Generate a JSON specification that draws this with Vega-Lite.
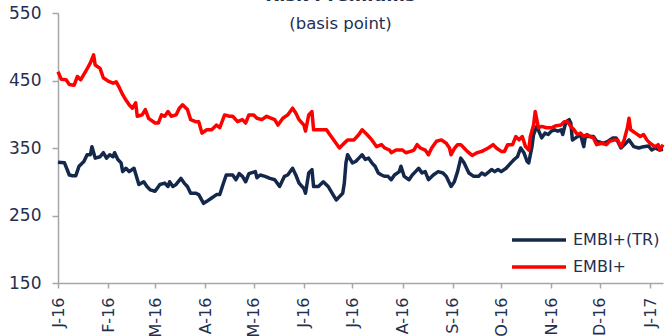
{
  "$schema": "https://vega.github.io/schema/vega-lite/v6.json",
  "width": 605,
  "height": 270,
  "autosize": {"type": "none"},
  "padding": {"left": 58, "top": 13, "right": 2, "bottom": 53},
  "background": "white",
  "title": {
    "text": "Risk Premiums",
    "subtitle": "(basis point)",
    "anchor": "middle",
    "offset": -28,
    "subtitlePadding": 11,
    "dx": -20,
    "font": "DejaVu Sans",
    "fontSize": 18,
    "fontWeight": "bold",
    "color": "#1F3050",
    "subtitleFont": "DejaVu Sans",
    "subtitleFontSize": 16.5,
    "subtitleColor": "#1F3050"
  },
  "config": {"view": {"stroke": null}},
  "data": {
    "values": [
      {"date": "2016-01-01", "series": "EMBI+", "value": 463},
      {"date": "2016-01-03", "series": "EMBI+", "value": 452},
      {"date": "2016-01-06", "series": "EMBI+", "value": 451},
      {"date": "2016-01-08", "series": "EMBI+", "value": 444},
      {"date": "2016-01-11", "series": "EMBI+", "value": 443},
      {"date": "2016-01-13", "series": "EMBI+", "value": 456},
      {"date": "2016-01-15", "series": "EMBI+", "value": 451},
      {"date": "2016-01-18", "series": "EMBI+", "value": 463},
      {"date": "2016-01-21", "series": "EMBI+", "value": 476},
      {"date": "2016-01-23", "series": "EMBI+", "value": 488},
      {"date": "2016-01-24", "series": "EMBI+", "value": 473},
      {"date": "2016-01-27", "series": "EMBI+", "value": 468},
      {"date": "2016-01-29", "series": "EMBI+", "value": 454},
      {"date": "2016-02-01", "series": "EMBI+", "value": 449},
      {"date": "2016-02-04", "series": "EMBI+", "value": 446},
      {"date": "2016-02-06", "series": "EMBI+", "value": 448},
      {"date": "2016-02-08", "series": "EMBI+", "value": 439},
      {"date": "2016-02-10", "series": "EMBI+", "value": 429},
      {"date": "2016-02-12", "series": "EMBI+", "value": 421},
      {"date": "2016-02-14", "series": "EMBI+", "value": 414},
      {"date": "2016-02-16", "series": "EMBI+", "value": 409},
      {"date": "2016-02-18", "series": "EMBI+", "value": 417},
      {"date": "2016-02-19", "series": "EMBI+", "value": 397},
      {"date": "2016-02-22", "series": "EMBI+", "value": 399},
      {"date": "2016-02-24", "series": "EMBI+", "value": 407},
      {"date": "2016-02-26", "series": "EMBI+", "value": 394},
      {"date": "2016-03-01", "series": "EMBI+", "value": 387},
      {"date": "2016-03-03", "series": "EMBI+", "value": 387},
      {"date": "2016-03-05", "series": "EMBI+", "value": 399},
      {"date": "2016-03-07", "series": "EMBI+", "value": 397},
      {"date": "2016-03-09", "series": "EMBI+", "value": 404},
      {"date": "2016-03-11", "series": "EMBI+", "value": 397},
      {"date": "2016-03-14", "series": "EMBI+", "value": 399},
      {"date": "2016-03-16", "series": "EMBI+", "value": 409},
      {"date": "2016-03-18", "series": "EMBI+", "value": 414},
      {"date": "2016-03-21", "series": "EMBI+", "value": 407},
      {"date": "2016-03-23", "series": "EMBI+", "value": 392},
      {"date": "2016-03-26", "series": "EMBI+", "value": 389},
      {"date": "2016-03-28", "series": "EMBI+", "value": 389},
      {"date": "2016-03-30", "series": "EMBI+", "value": 372},
      {"date": "2016-04-02", "series": "EMBI+", "value": 377},
      {"date": "2016-04-05", "series": "EMBI+", "value": 377},
      {"date": "2016-04-08", "series": "EMBI+", "value": 384},
      {"date": "2016-04-10", "series": "EMBI+", "value": 380},
      {"date": "2016-04-13", "series": "EMBI+", "value": 399},
      {"date": "2016-04-16", "series": "EMBI+", "value": 397},
      {"date": "2016-04-18", "series": "EMBI+", "value": 397},
      {"date": "2016-04-21", "series": "EMBI+", "value": 389},
      {"date": "2016-04-24", "series": "EMBI+", "value": 392},
      {"date": "2016-04-26", "series": "EMBI+", "value": 387},
      {"date": "2016-04-28", "series": "EMBI+", "value": 399},
      {"date": "2016-05-01", "series": "EMBI+", "value": 399},
      {"date": "2016-05-03", "series": "EMBI+", "value": 394},
      {"date": "2016-05-06", "series": "EMBI+", "value": 392},
      {"date": "2016-05-09", "series": "EMBI+", "value": 397},
      {"date": "2016-05-12", "series": "EMBI+", "value": 394},
      {"date": "2016-05-14", "series": "EMBI+", "value": 392},
      {"date": "2016-05-16", "series": "EMBI+", "value": 384},
      {"date": "2016-05-19", "series": "EMBI+", "value": 394},
      {"date": "2016-05-22", "series": "EMBI+", "value": 399},
      {"date": "2016-05-25", "series": "EMBI+", "value": 409},
      {"date": "2016-05-27", "series": "EMBI+", "value": 402},
      {"date": "2016-05-29", "series": "EMBI+", "value": 392},
      {"date": "2016-06-01", "series": "EMBI+", "value": 384},
      {"date": "2016-06-02", "series": "EMBI+", "value": 375},
      {"date": "2016-06-04", "series": "EMBI+", "value": 399},
      {"date": "2016-06-06", "series": "EMBI+", "value": 404},
      {"date": "2016-06-07", "series": "EMBI+", "value": 377},
      {"date": "2016-06-10", "series": "EMBI+", "value": 377},
      {"date": "2016-06-13", "series": "EMBI+", "value": 377},
      {"date": "2016-06-15", "series": "EMBI+", "value": 377},
      {"date": "2016-06-17", "series": "EMBI+", "value": 370},
      {"date": "2016-06-20", "series": "EMBI+", "value": 360},
      {"date": "2016-06-23", "series": "EMBI+", "value": 350},
      {"date": "2016-06-25", "series": "EMBI+", "value": 355},
      {"date": "2016-06-28", "series": "EMBI+", "value": 362},
      {"date": "2016-07-02", "series": "EMBI+", "value": 362},
      {"date": "2016-07-05", "series": "EMBI+", "value": 370},
      {"date": "2016-07-07", "series": "EMBI+", "value": 377},
      {"date": "2016-07-10", "series": "EMBI+", "value": 370},
      {"date": "2016-07-13", "series": "EMBI+", "value": 362},
      {"date": "2016-07-16", "series": "EMBI+", "value": 352},
      {"date": "2016-07-19", "series": "EMBI+", "value": 355},
      {"date": "2016-07-21", "series": "EMBI+", "value": 350},
      {"date": "2016-07-24", "series": "EMBI+", "value": 347},
      {"date": "2016-07-25", "series": "EMBI+", "value": 343},
      {"date": "2016-07-28", "series": "EMBI+", "value": 347},
      {"date": "2016-08-01", "series": "EMBI+", "value": 347},
      {"date": "2016-08-03", "series": "EMBI+", "value": 343},
      {"date": "2016-08-06", "series": "EMBI+", "value": 345},
      {"date": "2016-08-08", "series": "EMBI+", "value": 347},
      {"date": "2016-08-10", "series": "EMBI+", "value": 355},
      {"date": "2016-08-12", "series": "EMBI+", "value": 350},
      {"date": "2016-08-15", "series": "EMBI+", "value": 347},
      {"date": "2016-08-17", "series": "EMBI+", "value": 340},
      {"date": "2016-08-19", "series": "EMBI+", "value": 350},
      {"date": "2016-08-22", "series": "EMBI+", "value": 360},
      {"date": "2016-08-25", "series": "EMBI+", "value": 362},
      {"date": "2016-08-28", "series": "EMBI+", "value": 357},
      {"date": "2016-08-30", "series": "EMBI+", "value": 350},
      {"date": "2016-08-31", "series": "EMBI+", "value": 340},
      {"date": "2016-09-02", "series": "EMBI+", "value": 349},
      {"date": "2016-09-04", "series": "EMBI+", "value": 355},
      {"date": "2016-09-06", "series": "EMBI+", "value": 355},
      {"date": "2016-09-08", "series": "EMBI+", "value": 350},
      {"date": "2016-09-10", "series": "EMBI+", "value": 345},
      {"date": "2016-09-13", "series": "EMBI+", "value": 339},
      {"date": "2016-09-16", "series": "EMBI+", "value": 343},
      {"date": "2016-09-19", "series": "EMBI+", "value": 345},
      {"date": "2016-09-23", "series": "EMBI+", "value": 350},
      {"date": "2016-09-26", "series": "EMBI+", "value": 355},
      {"date": "2016-09-28", "series": "EMBI+", "value": 350},
      {"date": "2016-10-01", "series": "EMBI+", "value": 345},
      {"date": "2016-10-03", "series": "EMBI+", "value": 345},
      {"date": "2016-10-05", "series": "EMBI+", "value": 355},
      {"date": "2016-10-08", "series": "EMBI+", "value": 355},
      {"date": "2016-10-10", "series": "EMBI+", "value": 367},
      {"date": "2016-10-12", "series": "EMBI+", "value": 362},
      {"date": "2016-10-14", "series": "EMBI+", "value": 367},
      {"date": "2016-10-16", "series": "EMBI+", "value": 352},
      {"date": "2016-10-18", "series": "EMBI+", "value": 347},
      {"date": "2016-10-19", "series": "EMBI+", "value": 367},
      {"date": "2016-10-21", "series": "EMBI+", "value": 384},
      {"date": "2016-10-22", "series": "EMBI+", "value": 404},
      {"date": "2016-10-24", "series": "EMBI+", "value": 380},
      {"date": "2016-10-26", "series": "EMBI+", "value": 382},
      {"date": "2016-10-29", "series": "EMBI+", "value": 380},
      {"date": "2016-11-01", "series": "EMBI+", "value": 380},
      {"date": "2016-11-04", "series": "EMBI+", "value": 383},
      {"date": "2016-11-07", "series": "EMBI+", "value": 384},
      {"date": "2016-11-09", "series": "EMBI+", "value": 389},
      {"date": "2016-11-11", "series": "EMBI+", "value": 389},
      {"date": "2016-11-13", "series": "EMBI+", "value": 382},
      {"date": "2016-11-15", "series": "EMBI+", "value": 377},
      {"date": "2016-11-17", "series": "EMBI+", "value": 370},
      {"date": "2016-11-19", "series": "EMBI+", "value": 372},
      {"date": "2016-11-21", "series": "EMBI+", "value": 367},
      {"date": "2016-11-23", "series": "EMBI+", "value": 370},
      {"date": "2016-11-25", "series": "EMBI+", "value": 367},
      {"date": "2016-11-27", "series": "EMBI+", "value": 365},
      {"date": "2016-11-29", "series": "EMBI+", "value": 355},
      {"date": "2016-12-02", "series": "EMBI+", "value": 357},
      {"date": "2016-12-05", "series": "EMBI+", "value": 355},
      {"date": "2016-12-07", "series": "EMBI+", "value": 360},
      {"date": "2016-12-10", "series": "EMBI+", "value": 362},
      {"date": "2016-12-12", "series": "EMBI+", "value": 362},
      {"date": "2016-12-14", "series": "EMBI+", "value": 352},
      {"date": "2016-12-16", "series": "EMBI+", "value": 362},
      {"date": "2016-12-18", "series": "EMBI+", "value": 380},
      {"date": "2016-12-19", "series": "EMBI+", "value": 394},
      {"date": "2016-12-20", "series": "EMBI+", "value": 377},
      {"date": "2016-12-23", "series": "EMBI+", "value": 372},
      {"date": "2016-12-26", "series": "EMBI+", "value": 367},
      {"date": "2016-12-28", "series": "EMBI+", "value": 370},
      {"date": "2016-12-30", "series": "EMBI+", "value": 362},
      {"date": "2017-01-01", "series": "EMBI+", "value": 357},
      {"date": "2017-01-04", "series": "EMBI+", "value": 352},
      {"date": "2017-01-06", "series": "EMBI+", "value": 355},
      {"date": "2017-01-07", "series": "EMBI+", "value": 347},
      {"date": "2017-01-09", "series": "EMBI+", "value": 355},
      {"date": "2016-01-01", "series": "EMBI+(TR)", "value": 329},
      {"date": "2016-01-05", "series": "EMBI+(TR)", "value": 328},
      {"date": "2016-01-08", "series": "EMBI+(TR)", "value": 310},
      {"date": "2016-01-10", "series": "EMBI+(TR)", "value": 309},
      {"date": "2016-01-12", "series": "EMBI+(TR)", "value": 309},
      {"date": "2016-01-14", "series": "EMBI+(TR)", "value": 323},
      {"date": "2016-01-17", "series": "EMBI+(TR)", "value": 330},
      {"date": "2016-01-19", "series": "EMBI+(TR)", "value": 340},
      {"date": "2016-01-21", "series": "EMBI+(TR)", "value": 340},
      {"date": "2016-01-22", "series": "EMBI+(TR)", "value": 352},
      {"date": "2016-01-24", "series": "EMBI+(TR)", "value": 335},
      {"date": "2016-01-27", "series": "EMBI+(TR)", "value": 337},
      {"date": "2016-01-29", "series": "EMBI+(TR)", "value": 343},
      {"date": "2016-01-31", "series": "EMBI+(TR)", "value": 335},
      {"date": "2016-02-02", "series": "EMBI+(TR)", "value": 340},
      {"date": "2016-02-04", "series": "EMBI+(TR)", "value": 337},
      {"date": "2016-02-05", "series": "EMBI+(TR)", "value": 343},
      {"date": "2016-02-07", "series": "EMBI+(TR)", "value": 333},
      {"date": "2016-02-09", "series": "EMBI+(TR)", "value": 328},
      {"date": "2016-02-10", "series": "EMBI+(TR)", "value": 315},
      {"date": "2016-02-12", "series": "EMBI+(TR)", "value": 320},
      {"date": "2016-02-14", "series": "EMBI+(TR)", "value": 315},
      {"date": "2016-02-17", "series": "EMBI+(TR)", "value": 320},
      {"date": "2016-02-18", "series": "EMBI+(TR)", "value": 312},
      {"date": "2016-02-20", "series": "EMBI+(TR)", "value": 296},
      {"date": "2016-02-23", "series": "EMBI+(TR)", "value": 300},
      {"date": "2016-02-25", "series": "EMBI+(TR)", "value": 293},
      {"date": "2016-02-27", "series": "EMBI+(TR)", "value": 288},
      {"date": "2016-03-01", "series": "EMBI+(TR)", "value": 286},
      {"date": "2016-03-04", "series": "EMBI+(TR)", "value": 296},
      {"date": "2016-03-07", "series": "EMBI+(TR)", "value": 298},
      {"date": "2016-03-09", "series": "EMBI+(TR)", "value": 293},
      {"date": "2016-03-10", "series": "EMBI+(TR)", "value": 300},
      {"date": "2016-03-12", "series": "EMBI+(TR)", "value": 293},
      {"date": "2016-03-14", "series": "EMBI+(TR)", "value": 296},
      {"date": "2016-03-17", "series": "EMBI+(TR)", "value": 305},
      {"date": "2016-03-19", "series": "EMBI+(TR)", "value": 298},
      {"date": "2016-03-21", "series": "EMBI+(TR)", "value": 293},
      {"date": "2016-03-23", "series": "EMBI+(TR)", "value": 283},
      {"date": "2016-03-26", "series": "EMBI+(TR)", "value": 283},
      {"date": "2016-03-28", "series": "EMBI+(TR)", "value": 281},
      {"date": "2016-03-31", "series": "EMBI+(TR)", "value": 268},
      {"date": "2016-04-02", "series": "EMBI+(TR)", "value": 271},
      {"date": "2016-04-05", "series": "EMBI+(TR)", "value": 276},
      {"date": "2016-04-08", "series": "EMBI+(TR)", "value": 281},
      {"date": "2016-04-10", "series": "EMBI+(TR)", "value": 281},
      {"date": "2016-04-12", "series": "EMBI+(TR)", "value": 296},
      {"date": "2016-04-14", "series": "EMBI+(TR)", "value": 310},
      {"date": "2016-04-16", "series": "EMBI+(TR)", "value": 310},
      {"date": "2016-04-18", "series": "EMBI+(TR)", "value": 310},
      {"date": "2016-04-20", "series": "EMBI+(TR)", "value": 303},
      {"date": "2016-04-22", "series": "EMBI+(TR)", "value": 312},
      {"date": "2016-04-24", "series": "EMBI+(TR)", "value": 308},
      {"date": "2016-04-26", "series": "EMBI+(TR)", "value": 300},
      {"date": "2016-04-28", "series": "EMBI+(TR)", "value": 312},
      {"date": "2016-05-02", "series": "EMBI+(TR)", "value": 315},
      {"date": "2016-05-03", "series": "EMBI+(TR)", "value": 306},
      {"date": "2016-05-05", "series": "EMBI+(TR)", "value": 310},
      {"date": "2016-05-08", "series": "EMBI+(TR)", "value": 308},
      {"date": "2016-05-11", "series": "EMBI+(TR)", "value": 305},
      {"date": "2016-05-14", "series": "EMBI+(TR)", "value": 303},
      {"date": "2016-05-17", "series": "EMBI+(TR)", "value": 293},
      {"date": "2016-05-20", "series": "EMBI+(TR)", "value": 308},
      {"date": "2016-05-22", "series": "EMBI+(TR)", "value": 310},
      {"date": "2016-05-25", "series": "EMBI+(TR)", "value": 320},
      {"date": "2016-05-27", "series": "EMBI+(TR)", "value": 310},
      {"date": "2016-05-29", "series": "EMBI+(TR)", "value": 298},
      {"date": "2016-06-01", "series": "EMBI+(TR)", "value": 290},
      {"date": "2016-06-02", "series": "EMBI+(TR)", "value": 283},
      {"date": "2016-06-04", "series": "EMBI+(TR)", "value": 313},
      {"date": "2016-06-06", "series": "EMBI+(TR)", "value": 318},
      {"date": "2016-06-07", "series": "EMBI+(TR)", "value": 293},
      {"date": "2016-06-10", "series": "EMBI+(TR)", "value": 293},
      {"date": "2016-06-13", "series": "EMBI+(TR)", "value": 300},
      {"date": "2016-06-16", "series": "EMBI+(TR)", "value": 293},
      {"date": "2016-06-19", "series": "EMBI+(TR)", "value": 281},
      {"date": "2016-06-21", "series": "EMBI+(TR)", "value": 273},
      {"date": "2016-06-23", "series": "EMBI+(TR)", "value": 278},
      {"date": "2016-06-25", "series": "EMBI+(TR)", "value": 283},
      {"date": "2016-06-26", "series": "EMBI+(TR)", "value": 298},
      {"date": "2016-06-27", "series": "EMBI+(TR)", "value": 328},
      {"date": "2016-06-28", "series": "EMBI+(TR)", "value": 340},
      {"date": "2016-07-01", "series": "EMBI+(TR)", "value": 328},
      {"date": "2016-07-03", "series": "EMBI+(TR)", "value": 330},
      {"date": "2016-07-05", "series": "EMBI+(TR)", "value": 335},
      {"date": "2016-07-07", "series": "EMBI+(TR)", "value": 340},
      {"date": "2016-07-09", "series": "EMBI+(TR)", "value": 333},
      {"date": "2016-07-11", "series": "EMBI+(TR)", "value": 335},
      {"date": "2016-07-13", "series": "EMBI+(TR)", "value": 328},
      {"date": "2016-07-15", "series": "EMBI+(TR)", "value": 323},
      {"date": "2016-07-17", "series": "EMBI+(TR)", "value": 313},
      {"date": "2016-07-19", "series": "EMBI+(TR)", "value": 310},
      {"date": "2016-07-21", "series": "EMBI+(TR)", "value": 308},
      {"date": "2016-07-23", "series": "EMBI+(TR)", "value": 308},
      {"date": "2016-07-25", "series": "EMBI+(TR)", "value": 303},
      {"date": "2016-07-27", "series": "EMBI+(TR)", "value": 310},
      {"date": "2016-07-30", "series": "EMBI+(TR)", "value": 315},
      {"date": "2016-07-31", "series": "EMBI+(TR)", "value": 323},
      {"date": "2016-08-02", "series": "EMBI+(TR)", "value": 308},
      {"date": "2016-08-05", "series": "EMBI+(TR)", "value": 303},
      {"date": "2016-08-07", "series": "EMBI+(TR)", "value": 310},
      {"date": "2016-08-09", "series": "EMBI+(TR)", "value": 315},
      {"date": "2016-08-11", "series": "EMBI+(TR)", "value": 320},
      {"date": "2016-08-13", "series": "EMBI+(TR)", "value": 313},
      {"date": "2016-08-15", "series": "EMBI+(TR)", "value": 315},
      {"date": "2016-08-17", "series": "EMBI+(TR)", "value": 303},
      {"date": "2016-08-20", "series": "EMBI+(TR)", "value": 310},
      {"date": "2016-08-23", "series": "EMBI+(TR)", "value": 315},
      {"date": "2016-08-26", "series": "EMBI+(TR)", "value": 313},
      {"date": "2016-08-28", "series": "EMBI+(TR)", "value": 308},
      {"date": "2016-08-31", "series": "EMBI+(TR)", "value": 293},
      {"date": "2016-09-02", "series": "EMBI+(TR)", "value": 300},
      {"date": "2016-09-04", "series": "EMBI+(TR)", "value": 315},
      {"date": "2016-09-06", "series": "EMBI+(TR)", "value": 335},
      {"date": "2016-09-08", "series": "EMBI+(TR)", "value": 328},
      {"date": "2016-09-11", "series": "EMBI+(TR)", "value": 313},
      {"date": "2016-09-14", "series": "EMBI+(TR)", "value": 308},
      {"date": "2016-09-17", "series": "EMBI+(TR)", "value": 308},
      {"date": "2016-09-19", "series": "EMBI+(TR)", "value": 313},
      {"date": "2016-09-21", "series": "EMBI+(TR)", "value": 310},
      {"date": "2016-09-25", "series": "EMBI+(TR)", "value": 318},
      {"date": "2016-09-27", "series": "EMBI+(TR)", "value": 315},
      {"date": "2016-09-29", "series": "EMBI+(TR)", "value": 318},
      {"date": "2016-10-01", "series": "EMBI+(TR)", "value": 315},
      {"date": "2016-10-04", "series": "EMBI+(TR)", "value": 320},
      {"date": "2016-10-07", "series": "EMBI+(TR)", "value": 328},
      {"date": "2016-10-09", "series": "EMBI+(TR)", "value": 333},
      {"date": "2016-10-11", "series": "EMBI+(TR)", "value": 337},
      {"date": "2016-10-13", "series": "EMBI+(TR)", "value": 350},
      {"date": "2016-10-15", "series": "EMBI+(TR)", "value": 343},
      {"date": "2016-10-17", "series": "EMBI+(TR)", "value": 330},
      {"date": "2016-10-18", "series": "EMBI+(TR)", "value": 328},
      {"date": "2016-10-20", "series": "EMBI+(TR)", "value": 352},
      {"date": "2016-10-21", "series": "EMBI+(TR)", "value": 370},
      {"date": "2016-10-23", "series": "EMBI+(TR)", "value": 382},
      {"date": "2016-10-26", "series": "EMBI+(TR)", "value": 365},
      {"date": "2016-10-28", "series": "EMBI+(TR)", "value": 372},
      {"date": "2016-10-30", "series": "EMBI+(TR)", "value": 370},
      {"date": "2016-11-01", "series": "EMBI+(TR)", "value": 375},
      {"date": "2016-11-03", "series": "EMBI+(TR)", "value": 377},
      {"date": "2016-11-05", "series": "EMBI+(TR)", "value": 375},
      {"date": "2016-11-07", "series": "EMBI+(TR)", "value": 377},
      {"date": "2016-11-08", "series": "EMBI+(TR)", "value": 370},
      {"date": "2016-11-10", "series": "EMBI+(TR)", "value": 389},
      {"date": "2016-11-12", "series": "EMBI+(TR)", "value": 392},
      {"date": "2016-11-13", "series": "EMBI+(TR)", "value": 387},
      {"date": "2016-11-14", "series": "EMBI+(TR)", "value": 362},
      {"date": "2016-11-16", "series": "EMBI+(TR)", "value": 365},
      {"date": "2016-11-19", "series": "EMBI+(TR)", "value": 370},
      {"date": "2016-11-21", "series": "EMBI+(TR)", "value": 352},
      {"date": "2016-11-22", "series": "EMBI+(TR)", "value": 367},
      {"date": "2016-11-25", "series": "EMBI+(TR)", "value": 367},
      {"date": "2016-11-27", "series": "EMBI+(TR)", "value": 367},
      {"date": "2016-11-29", "series": "EMBI+(TR)", "value": 360},
      {"date": "2016-12-03", "series": "EMBI+(TR)", "value": 357},
      {"date": "2016-12-06", "series": "EMBI+(TR)", "value": 360},
      {"date": "2016-12-09", "series": "EMBI+(TR)", "value": 365},
      {"date": "2016-12-11", "series": "EMBI+(TR)", "value": 365},
      {"date": "2016-12-14", "series": "EMBI+(TR)", "value": 350},
      {"date": "2016-12-17", "series": "EMBI+(TR)", "value": 357},
      {"date": "2016-12-19", "series": "EMBI+(TR)", "value": 362},
      {"date": "2016-12-22", "series": "EMBI+(TR)", "value": 352},
      {"date": "2016-12-25", "series": "EMBI+(TR)", "value": 350},
      {"date": "2016-12-28", "series": "EMBI+(TR)", "value": 352},
      {"date": "2016-12-31", "series": "EMBI+(TR)", "value": 353},
      {"date": "2017-01-02", "series": "EMBI+(TR)", "value": 347},
      {"date": "2017-01-04", "series": "EMBI+(TR)", "value": 350},
      {"date": "2017-01-07", "series": "EMBI+(TR)", "value": 347},
      {"date": "2017-01-09", "series": "EMBI+(TR)", "value": 348}
    ]
  },
  "encoding": {
    "x": {
      "field": "date",
      "type": "temporal",
      "scale": {
        "type": "utc",
        "domain": [
          {"year": 2016, "month": 1, "date": 1, "utc": true},
          {"year": 2017, "month": 1, "date": 9, "utc": true}
        ]
      },
      "axis": {
        "title": null,
        "grid": false,
        "tickCount": {"interval": "month", "step": 1},
        "labelExpr": "slice(utcFormat(datum.value, '%B'), 0, 1) + '-' + utcFormat(datum.value, '%y')",
        "labelAngle": 270,
        "labelFont": "DejaVu Sans",
        "labelFontSize": 16,
        "labelColor": "#1F3050",
        "labelPadding": 9,
        "labelFlush": false,
        "labelOverlap": false,
        "labelBound": false,
        "domainColor": "#A6A6A6",
        "domainWidth": 1.5,
        "tickColor": "#A6A6A6",
        "tickWidth": 1.5,
        "tickSize": 5
      }
    },
    "y": {
      "field": "value",
      "type": "quantitative",
      "scale": {"domain": [150, 550], "nice": false, "zero": false},
      "axis": {
        "title": null,
        "grid": false,
        "values": [150, 250, 350, 450, 550],
        "labelFont": "DejaVu Sans",
        "labelFontSize": 17,
        "labelColor": "#1F3050",
        "labelPadding": 11,
        "labelBound": false,
        "labelFlush": false,
        "domainColor": "#A6A6A6",
        "domainWidth": 1.5,
        "tickColor": "#A6A6A6",
        "tickWidth": 1.5,
        "tickSize": 6
      }
    },
    "color": {
      "field": "series",
      "type": "nominal",
      "scale": {"domain": ["EMBI+(TR)", "EMBI+"], "range": ["#14284B", "#FF0000"]},
      "legend": {
        "title": null,
        "orient": "none",
        "legendX": 461,
        "legendY": 216,
        "padding": 0,
        "symbolType": "M-2,0H4",
        "symbolSize": 324,
        "symbolStrokeWidth": 3.5,
        "symbolFillColor": "transparent",
        "labelFont": "DejaVu Sans",
        "labelFontSize": 16,
        "labelColor": "#1F3050",
        "labelOffset": 32,
        "rowPadding": 8
      }
    }
  },
  "layer": [
    {
      "transform": [{"filter": "datum.series === 'EMBI+(TR)'"}],
      "mark": {"type": "line", "strokeWidth": 3.5, "strokeJoin": "round"}
    },
    {
      "transform": [{"filter": "datum.series === 'EMBI+'"}],
      "mark": {"type": "line", "strokeWidth": 3.5, "strokeJoin": "round"}
    }
  ]
}
